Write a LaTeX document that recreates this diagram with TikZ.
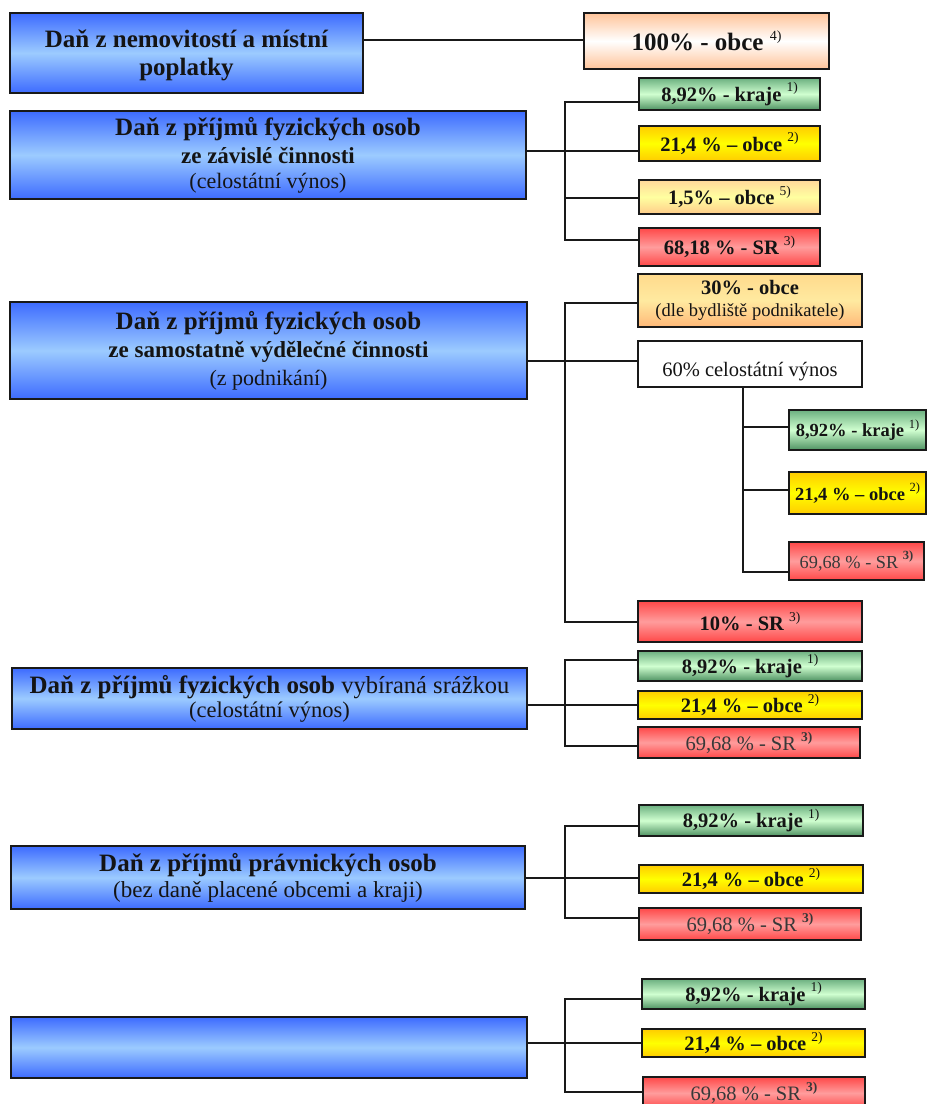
\documentclass[tikz,border=0pt]{standalone}
\usepackage{fontspec}
\setmainfont{Liberation Serif}
\newcommand\fsz[2]{\fontsize{#1}{#2}\selectfont}
\newcommand\supn[1]{\raisebox{0.45em}{\fontsize{13.5}{13.5}\selectfont\mdseries #1}}
\newcommand\supb[1]{\raisebox{0.45em}{\fontsize{13.5}{13.5}\selectfont\bfseries #1}}
\newcommand\supsn[1]{\raisebox{0.45em}{\fontsize{12.5}{12.5}\selectfont\mdseries #1}}
\newcommand\supsb[1]{\raisebox{0.45em}{\fontsize{12.5}{12.5}\selectfont\bfseries #1}}
\definecolor{blueE}{HTML}{3D6BFF}
\definecolor{blueM}{HTML}{9CCBFF}
\definecolor{grnT}{HTML}{6CB080}
\definecolor{grnM}{HTML}{D0FFD0}
\definecolor{grnB}{HTML}{4E9262}
\definecolor{yelE}{HTML}{FFCC00}
\definecolor{yelM}{HTML}{FFFF00}
\definecolor{redE}{HTML}{FF4848}
\definecolor{redM}{HTML}{FF9C9C}
\definecolor{pchE}{HTML}{FFC49A}
\definecolor{lyT}{HTML}{FFD89A}
\definecolor{lyM}{HTML}{FFFFA0}
\definecolor{lyB}{HTML}{FFCC8A}
\definecolor{orT}{HTML}{FFDA8C}
\definecolor{orM}{HTML}{FFEAA0}
\definecolor{orB}{HTML}{FFB878}
\begin{document}
\begin{tikzpicture}[x=1pt,y=-1pt,
  box/.style={draw=black!90, line width=1.4pt, inner sep=0pt, align=center, text=black!92},
  bluebox/.style={box, top color=blueE, bottom color=blueE, middle color=blueM, font=\fsz{25}{28}},
  grnbox/.style={box, top color=grnT, bottom color=grnB, middle color=grnM},
  yelbox/.style={box, top color=yelE, bottom color=yelE, middle color=yelM},
  redbox/.style={box, top color=redE, bottom color=redE, middle color=redM},
  pchbox/.style={box, top color=pchE, bottom color=pchE, middle color=white},
  lybox/.style={box, top color=lyT, bottom color=lyB, middle color=lyM},
  orbox/.style={box, top color=orT, bottom color=orB, middle color=orM},
  whbox/.style={box, fill=white},
  link/.style={line width=1.5pt, black!90}]
\useasboundingbox (0,0) rectangle (927,1104);
\clip (0,0) rectangle (927,1104);

% ---- section 1
\node[bluebox, minimum width=353, minimum height=80] (box1) at (186.5,53)
  {\raisebox{-2pt}[\height][\depth]{\bfseries Daň z nemovitostí a místní}\\\raisebox{-2pt}[\height][\depth]{\bfseries poplatky}};
\node[pchbox, minimum width=245, minimum height=56, font=\fsz{25}{28}\bfseries] (p100) at (706.5,41)
  {100\% - obce \raisebox{0.42em}{\fontsize{14}{14}\selectfont\mdseries 4)}};
\coordinate (t1) at (450,40);
\draw[link] (box1.east |- t1) -- (t1 -| p100.west);

% ---- section 2
\node[bluebox, minimum width=516, minimum height=88] (box2) at (268,155)
  {{\bfseries Daň z příjmů fyzických osob}\\{\bfseries\fsz{23}{27}ze závislé činnosti}\\[-3pt]{\fsz{22}{27}(celostátní výnos)}};
\node[grnbox, minimum width=181, minimum height=32, font=\fsz{20.5}{22}\bfseries] (p2a) at (729.5,94) {8,92\% - kraje \supn{1)}};
\node[yelbox, minimum width=181, minimum height=35, font=\fsz{20.5}{22}\bfseries] (p2b) at (729.5,143.5) {21,4 \% – obce \supn{2)}};
\node[lybox, minimum width=181, minimum height=34, font=\fsz{20.5}{22}\bfseries] (p2c) at (729.5,197) {1,5\% – obce \supn{5)}};
\node[redbox, minimum width=181, minimum height=38, font=\fsz{20.5}{22}\bfseries] (p2d) at (729.5,247) {68,18 \% - SR \supn{3)}};
\coordinate (t2) at (565,151);
\coordinate (t2a) at (565,102);
\coordinate (t2c) at (565,198);
\coordinate (t2d) at (565,240);
\draw[link] (box2.east |- t2) -- (t2 -| p2b.west);
\draw[link] (t2a -| p2a.west) -- (t2a) -- (t2d) -- (t2d -| p2d.west);
\draw[link] (t2c) -- (t2c -| p2c.west);

% ---- section 3
\node[bluebox, minimum width=517, minimum height=97] (box3) at (268.5,350.5)
  {{\bfseries Daň z příjmů fyzických osob}\\{\bfseries\fsz{23}{28}ze samostatně výdělečné činnosti}\\{\fsz{22}{28}(z podnikání)}};
\node[orbox, minimum width=224, minimum height=53, font=\fsz{20.5}{22}] (p3a) at (750,300.5)
  {{\bfseries 30\% - obce}\\{\fsz{18.5}{21}(dle bydliště podnikatele)}};
\node[whbox, minimum width=224, minimum height=46, font=\fsz{20.5}{22}] (p3b) at (750,364)
  {\raisebox{-8pt}[\height][\depth]{60\% celostátní výnos}};
\node[redbox, minimum width=224, minimum height=41, font=\fsz{20.5}{22}\bfseries] (p3c) at (750,621.5) {10\% - SR \supn{3)}};
\node[grnbox, minimum width=137, minimum height=40, font=\fsz{18.5}{20}\bfseries] (s1) at (857.5,430) {8,92\% - kraje \supsn{1)}};
\node[yelbox, minimum width=137, minimum height=42, font=\fsz{18.5}{20}\bfseries] (s2) at (857.5,493) {21,4 \% – obce \supsn{2)}};
\node[redbox, minimum width=135, minimum height=38, font=\fsz{18.3}{20}, text=black!78] (s3) at (856.5,561) {69,68 \% - SR \supsb{3)}};
\coordinate (t3) at (565,361);
\coordinate (t3a) at (565,303);
\coordinate (t3c) at (565,622);
\draw[link] (box3.east |- t3) -- (t3 -| p3b.west);
\draw[link] (t3a -| p3a.west) -- (t3a) -- (t3c) -- (t3c -| p3c.west);
\coordinate (u1) at (743,427);
\coordinate (u2) at (743,490);
\coordinate (u3) at (743,572);
\draw[link] (p3b.south -| u1) -- (u3) -- (u3 -| s3.west);
\draw[link] (u1) -- (u1 -| s1.west);
\draw[link] (u2) -- (u2 -| s2.west);

% ---- section 4
\node[bluebox, minimum width=515, minimum height=61] (box4) at (269.5,698.5)
  {{\bfseries Daň z příjmů fyzických osob} {\fsz{24.5}{26}vybíraná srážkou}\\[-4pt]{\fsz{22.5}{26}(celostátní výnos)}};
\node[grnbox, minimum width=224, minimum height=30, font=\fsz{20.5}{22}\bfseries] (p4a) at (750,666) {8,92\% - kraje \supn{1)}};
\node[yelbox, minimum width=224, minimum height=28, font=\fsz{20.5}{22}\bfseries] (p4b) at (750,705) {21,4 \% – obce \supn{2)}};
\node[redbox, minimum width=222, minimum height=31, font=\fsz{20.5}{22}, text=black!78] (p4c) at (749,742.5) {69,68 \% - SR \supb{3)}};
\coordinate (t4) at (565,705);
\coordinate (t4a) at (565,660);
\coordinate (t4c) at (565,746);
\draw[link] (box4.east |- t4) -- (t4 -| p4b.west);
\draw[link] (t4a -| p4a.west) -- (t4a) -- (t4c) -- (t4c -| p4c.west);

% ---- section 5
\node[bluebox, minimum width=514, minimum height=63] (box5) at (268,877.5)
  {{\bfseries Daň z příjmů právnických osob}\\[-2pt]{\fsz{23}{26}(bez daně placené obcemi a kraji)}};
\node[grnbox, minimum width=224, minimum height=31, font=\fsz{20.5}{22}\bfseries] (p5a) at (751,820.5) {8,92\% - kraje \supn{1)}};
\node[yelbox, minimum width=224, minimum height=28, font=\fsz{20.5}{22}\bfseries] (p5b) at (751,879) {21,4 \% – obce \supn{2)}};
\node[redbox, minimum width=222, minimum height=32, font=\fsz{20.5}{22}, text=black!78] (p5c) at (750,924) {69,68 \% - SR \supb{3)}};
\coordinate (t5) at (565,878);
\coordinate (t5a) at (565,826);
\coordinate (t5c) at (565,918);
\draw[link] (box5.east |- t5) -- (t5 -| p5b.west);
\draw[link] (t5a -| p5a.west) -- (t5a) -- (t5c) -- (t5c -| p5c.west);

% ---- section 6
\node[bluebox, minimum width=516, minimum height=61] (box6) at (269,1047.5) {};
\node[grnbox, minimum width=223, minimum height=30, font=\fsz{20.5}{22}\bfseries] (p6a) at (753.5,994) {8,92\% - kraje \supn{1)}};
\node[yelbox, minimum width=223, minimum height=28, font=\fsz{20.5}{22}\bfseries] (p6b) at (753.5,1043) {21,4 \% – obce \supn{2)}};
\node[redbox, minimum width=222, minimum height=32, font=\fsz{20.5}{22}, text=black!78] (p6c) at (754,1093) {69,68 \% - SR \supb{3)}};
\coordinate (t6) at (565,1043);
\coordinate (t6a) at (565,999);
\coordinate (t6c) at (565,1092);
\draw[link] (box6.east |- t6) -- (t6 -| p6b.west);
\draw[link] (t6a -| p6a.west) -- (t6a) -- (t6c) -- (t6c -| p6c.west);
\end{tikzpicture}
\end{document}
